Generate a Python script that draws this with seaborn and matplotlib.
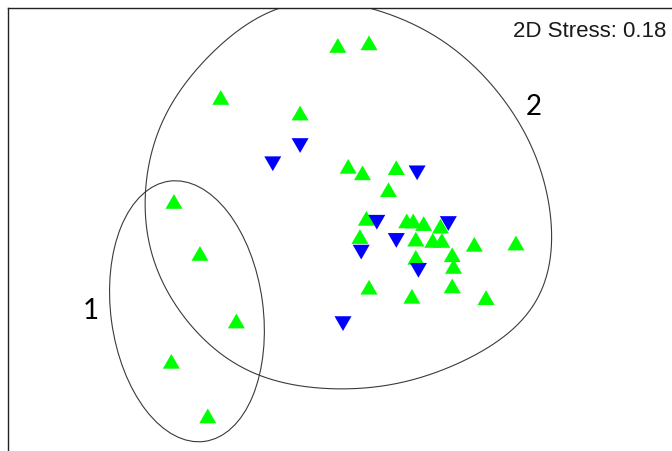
import numpy as np
import pandas as pd
import matplotlib
matplotlib.use("Agg")
import matplotlib.pyplot as plt
from matplotlib.patches import Ellipse
import seaborn as sns

# NMDS ordination scores (MDS1, MDS2) for the two sample types
green_x = [-0.02, 0.22, -0.92, -0.31, 0.06, 0.17, 0.43, 0.37, -1.28, 0.20,
           0.15, 0.51, 0.56, 0.64, 0.77, 0.58, 0.71, 0.78, 1.03, 1.35,
           0.58, 0.86, 0.87, 0.22, 0.55, 0.86, 1.12, -1.08, -0.80, -1.30,
           -1.02]
green_y = [1.49, 1.51, 1.09, 0.97, 0.56, 0.51, 0.55, 0.38, 0.29, 0.16,
           0.02, 0.14, 0.14, 0.12, 0.10, 0.00, -0.01, -0.01, -0.04, -0.03,
           -0.14, -0.12, -0.21, -0.37, -0.44, -0.36, -0.45, -0.11, -0.63, -0.94,
           -1.36]
blue_x = [-0.31, -0.52, 0.59, 0.28, 0.83, 0.43, 0.16, 0.60, 0.02]
blue_y = [0.72, 0.58, 0.51, 0.13, 0.12, -0.01, -0.10, -0.24, -0.65]

# Cluster 1: ellipse (centre, width, height, rotation in degrees)
group1_center = (-1.18, -0.555)
group1_size = (1.17, 2.02)
group1_angle = 7.7

# Cluster 2: boundary nodes of a smooth closed outline
group2_x = [-0.12, 0.18, 0.48, 0.74, 0.99, 1.25, 1.48, 1.56, 1.61, 1.62,
            1.61, 1.55, 1.44, 1.25, 1.00, 0.66, 0.22, -0.03, -0.36, -0.62,
            -0.98, -1.18, -1.33, -1.44, -1.48, -1.50, -1.49, -1.46, -1.41, -1.31,
            -1.15, -0.95, -0.71, -0.42]
group2_y = [1.84, 1.78, 1.69, 1.56, 1.36, 1.08, 0.69, 0.46, 0.25, 0.05,
            -0.15, -0.38, -0.59, -0.75, -0.90, -1.06, -1.14, -1.15, -1.12, -1.05,
            -0.84, -0.61, -0.41, -0.15, 0.00, 0.21, 0.41, 0.62, 0.82, 1.02,
            1.25, 1.46, 1.67, 1.78]

cluster_labels = ["1", "2"]
cluster_label_pos = [(-1.92, -0.61), (1.485, 0.96)]
stress_text = "2D Stress: 0.18"

df = pd.DataFrame({
    "MDS1": green_x + blue_x,
    "MDS2": green_y + blue_y,
    "group": ["A"] * len(green_x) + ["B"] * len(blue_x),
})

h = np.sqrt(3) / 2
up_tri = [(0, h), (-1, -h), (1, -h)]
down_tri = [(0, -h), (-1, h), (1, h)]


def smooth_closed_outline(xs, ys, harmonics=7, n=600):
    """Least-squares Fourier fit of a closed boundary, parameterised by arc length."""
    pts = np.column_stack([xs, ys])
    seg = np.linalg.norm(np.diff(np.vstack([pts, pts[:1]]), axis=0), axis=1)
    t = np.concatenate([[0], np.cumsum(seg)[:-1]]) / seg.sum() * 2 * np.pi

    def basis(tt):
        cols = [np.ones_like(tt)]
        for k in range(1, harmonics + 1):
            cols += [np.cos(k * tt), np.sin(k * tt)]
        return np.column_stack(cols)

    coef, *_ = np.linalg.lstsq(basis(t), pts, rcond=None)
    tf = np.linspace(0, 2 * np.pi, n)
    return basis(tf) @ coef


sns.set_style("white")
fig = plt.figure(figsize=(6.72, 4.52), dpi=100)
ax = fig.add_axes([7.5 / 672, 0, 1 - 7.5 / 672, 1 - 8.5 / 452])

outline = smooth_closed_outline(group2_x, group2_y)
ax.plot(outline[:, 0], outline[:, 1], color="#3a3a3a", lw=0.8, zorder=1)
ax.add_patch(Ellipse(group1_center, group1_size[0], group1_size[1],
                     angle=group1_angle, fill=False, edgecolor="#3a3a3a",
                     lw=0.8, zorder=1))

sns.scatterplot(data=df, x="MDS1", y="MDS2", hue="group", style="group",
                palette={"A": "#00ff00", "B": "#0000ff"},
                markers={"A": up_tri, "B": down_tri},
                s=150, linewidth=0, legend=False, ax=ax, zorder=3)

for lab, (lx, ly) in zip(cluster_labels, cluster_label_pos):
    ax.text(lx, ly, lab, ha="center", va="baseline", fontsize=20,
            family="Lato", color="black")

fig.text(666 / 672, 1 - 36.7 / 452, stress_text, ha="right", va="baseline",
         fontsize=16, family="Liberation Sans", color="#1a1a1a")

ax.set_xlim(-2.56, 2.55)
ax.set_ylim(-1.63, 1.782)
ax.set_xticks([])
ax.set_yticks([])
ax.set_xlabel("")
ax.set_ylabel("")
for side in ["right", "bottom"]:
    ax.spines[side].set_visible(False)
for side in ["left", "top"]:
    ax.spines[side].set_color("#222222")
    ax.spines[side].set_linewidth(1.0)

fig.savefig("out.png", dpi=100)
